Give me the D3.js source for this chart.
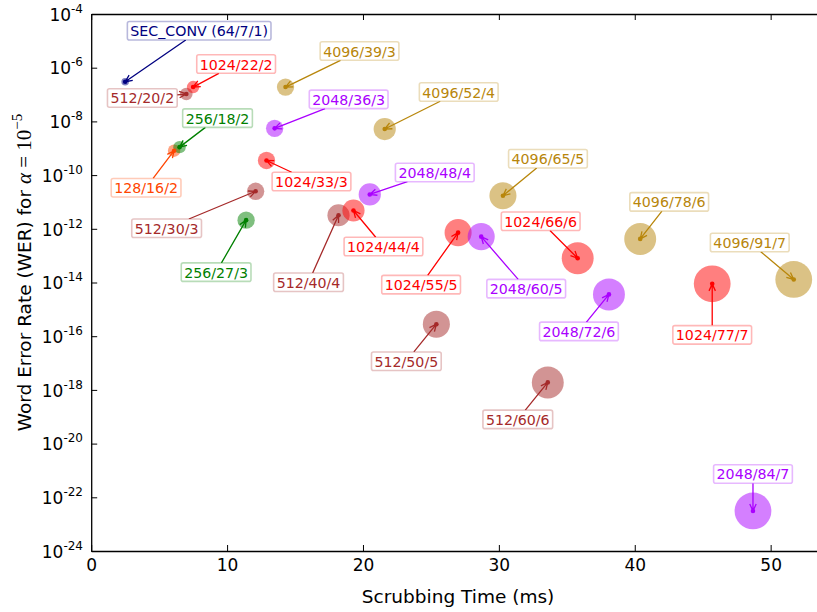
<!DOCTYPE html>
<html>
<head>
<meta charset="utf-8">
<script src="https://cdn.jsdelivr.net/npm/d3@7"></script>
<style>
  body { margin: 0; background: #fff; }
  svg { display: block; }
  text { font-family: "DejaVu Sans", sans-serif; }
</style>
</head>
<body>
<svg id="chart" width="817" height="612"></svg>
<script>
// Code configurations (size/bits/t), grouped by code size
const configLabels = [
  "SEC_CONV (64/7/1)",
  "128/16/2",
  "256/18/2", "256/27/3",
  "512/20/2", "512/30/3", "512/40/4", "512/50/5", "512/60/6",
  "1024/22/2", "1024/33/3", "1024/44/4", "1024/55/5", "1024/66/6", "1024/77/7",
  "2048/36/3", "2048/48/4", "2048/60/5", "2048/72/6", "2048/84/7",
  "4096/39/3", "4096/52/4", "4096/65/5", "4096/78/6", "4096/91/7"
];
const codeGroup = [
  "sec", "128", "256", "256",
  "512", "512", "512", "512", "512",
  "1024", "1024", "1024", "1024", "1024", "1024",
  "2048", "2048", "2048", "2048", "2048",
  "4096", "4096", "4096", "4096", "4096"
];
const correctable = [
  1, 2, 2, 3,
  2, 3, 4, 5, 6,
  2, 3, 4, 5, 6, 7,
  3, 4, 5, 6, 7,
  3, 4, 5, 6, 7
];
// Scrubbing time (ms)
const scrubTimeMs = [
  2.5, 6.1, 6.5, 11.4,
  7.0, 12.1, 18.2, 25.4, 33.6,
  7.5, 12.9, 19.3, 27.0, 35.8, 45.7,
  13.5, 20.5, 28.7, 38.1, 48.7,
  14.3, 21.6, 30.3, 40.4, 51.7
];
// Word error rate at alpha = 1e-5
const werValues = [
  3.0e-7, 8.1e-10, 1.1e-9, 2.1e-12,
  1.05e-7, 2.5e-11, 3.2e-12, 2.8e-16, 1.9e-18,
  1.9e-7, 3.5e-10, 4.8e-12, 7.2e-13, 8.0e-14, 8.9e-15,
  5.5e-9, 1.9e-11, 5.1e-13, 3.6e-15, 3.1e-23,
  1.9e-7, 5.2e-9, 1.7e-11, 4.2e-13, 1.3e-14
];
// Annotation text offsets from each point, in pixels
const labelOffsets = [
  [74, -51], [-28, 37], [38, -29], [-30, 52],
  [-44, 4], [-89, 37], [-30, 67], [-30, 37], [-30, 37],
  [43, -23], [45, 21], [30, 36], [-37, 52], [-37, -37], [0, 51],
  [74, -29], [65, -22], [45, 52], [-30, 37], [0, -37],
  [74, -36], [74, -37], [45, -37], [29, -37], [-44, -37]
];
const xTicks = [0, 10, 20, 30, 40, 50];
const yTickExponents = [-4, -6, -8, -10, -12, -14, -16, -18, -20, -22, -24];

const groupColors = {
  sec: "#000080", "128": "#ff4500", "256": "#008000", "512": "#a52a2a",
  "1024": "#ff0000", "2048": "#aa00ff", "4096": "#b8860b"
};

const svg = d3.select("#chart");
const plotLeft = 91.2, plotTop = 14, plotBottom = 551, plotRight = 825;

const x = d3.scaleLinear().domain([0, 54]).range([plotLeft, plotRight]);
const y = d3.scaleLog().domain([1e-24, 1e-4]).range([plotBottom, plotTop]);
const r = d3.scaleLinear().domain([1, 7]).range([3.8, 18.4]);

const points = configLabels.map((label, i) => ({
  label, group: codeGroup[i], t: correctable[i],
  ms: scrubTimeMs[i], wer: werValues[i], off: labelOffsets[i]
}));

// Axes frame
const axisG = svg.append("g");
const xAxis = d3.axisBottom(x).tickValues(xTicks).tickSizeInner(-6).tickSizeOuter(0).tickPadding(8).tickFormat(d3.format("d"));
const gx = axisG.append("g").attr("transform", `translate(0,${plotBottom})`).call(xAxis);
gx.selectAll("text").attr("font-size", 17).attr("font-family", "DejaVu Sans").attr("fill", "#000");
const xTop = d3.axisTop(x).tickValues(xTicks).tickSizeInner(-6).tickSizeOuter(0).tickFormat("");
axisG.append("g").attr("transform", `translate(0,${plotTop})`).call(xTop);

const yAxis = d3.axisLeft(y).tickValues(yTickExponents.map(e => Math.pow(10, e))).tickSizeInner(-6).tickSizeOuter(0).tickFormat("");
axisG.append("g").attr("transform", `translate(${plotLeft},0)`).call(yAxis);
axisG.selectAll(".domain").attr("stroke", "#000").attr("stroke-width", 1.3);
axisG.selectAll(".tick line").attr("stroke", "#000").attr("stroke-width", 1);

// y tick labels as 10 with superscript exponent
const yLab = svg.append("g");
yTickExponents.forEach(e => {
  const ty = y(Math.pow(10, e));
  const t = yLab.append("text").attr("x", 83).attr("y", ty + 6.7)
    .attr("text-anchor", "end").attr("font-size", 17).attr("fill", "#000");
  t.append("tspan").text("10");
  t.append("tspan").attr("dy", -8).attr("font-size", 12).text(String(e));
});

// Axis titles
svg.append("text").attr("x", (plotLeft + plotRight) / 2).attr("y", 603)
  .attr("text-anchor", "middle").attr("font-size", 18.5).text("Scrubbing Time (ms)");

const yt = svg.append("text").attr("text-anchor", "middle").attr("font-size", 18.5)
  .attr("transform", `translate(31,${(plotTop + plotBottom) / 2 - 10}) rotate(-90)`);
yt.append("tspan").text("Word Error Rate (WER) for ");
yt.append("tspan").attr("font-family", "Liberation Serif").attr("font-style", "italic").attr("font-size", 21).text("\u03b1");
yt.append("tspan").attr("font-family", "Liberation Serif").attr("font-size", 21).text(" = 10");
yt.append("tspan").attr("font-family", "Liberation Serif").attr("font-size", 15).attr("dy", -9).text("\u22125");

// Bubbles
const bubbles = svg.append("g");
bubbles.selectAll("circle").data(points).join("circle")
  .attr("cx", d => x(d.ms)).attr("cy", d => y(d.wer)).attr("r", d => r(d.t))
  .attr("fill", d => groupColors[d.group]).attr("fill-opacity", 0.5);

// Annotations
const ann = svg.append("g");
points.forEach(d => {
  const col = groupColors[d.group];
  const px = x(d.ms), py = y(d.wer);
  const cx = px + d.off[0], cy = py + d.off[1];
  const g = ann.append("g");
  const box = g.append("rect");
  const txt = g.append("text").attr("x", cx).attr("y", cy)
    .attr("text-anchor", "middle").attr("font-size", 14.2).attr("fill", col).text(d.label);
  const bb = txt.node().getBBox();
  txt.attr("y", cy - (bb.y + bb.height / 2 - cy) + 0.5);
  const w = bb.width + 6, h = 18.5;
  box.attr("x", cx - w / 2).attr("y", cy - h / 2).attr("width", w).attr("height", h)
    .attr("rx", 2).attr("fill", "#fff").attr("stroke", col).attr("stroke-opacity", 0.28).attr("stroke-width", 1.6);

  // arrow from box edge to the point
  const dx = px - cx, dy = py - cy;
  const len = Math.hypot(dx, dy);
  const ux = dx / len, uy = dy / len;
  let tEdge = Infinity;
  if (Math.abs(dx) > 1e-6) tEdge = Math.min(tEdge, (w / 2) / Math.abs(dx));
  if (Math.abs(dy) > 1e-6) tEdge = Math.min(tEdge, (h / 2) / Math.abs(dy));
  const sx = cx + dx * tEdge, sy = cy + dy * tEdge;
  const hl = 7, hw = 3.2;
  const bx = px - ux * hl, by = py - uy * hl;
  const path = `M${sx},${sy}L${px},${py}M${bx - uy * hw},${by + ux * hw}L${px},${py}L${bx + uy * hw},${by - ux * hw}`;
  ann.insert("path", ":first-child").attr("d", path).attr("fill", "none")
    .attr("stroke", col).attr("stroke-width", 1.3);
});

// Point centres
svg.append("g").selectAll("circle").data(points).join("circle")
  .attr("cx", d => x(d.ms)).attr("cy", d => y(d.wer)).attr("r", 2.3)
  .attr("fill", d => groupColors[d.group]);
</script>
</body>
</html>
